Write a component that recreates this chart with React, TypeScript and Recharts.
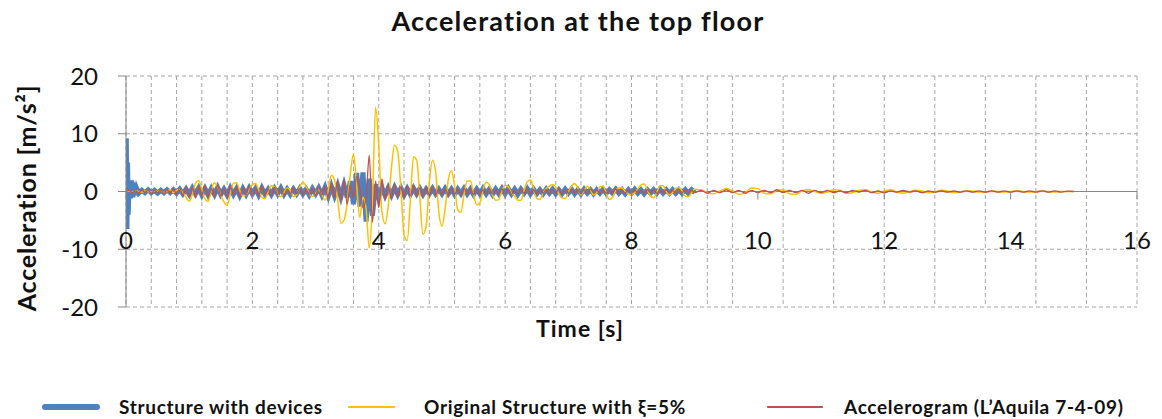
import React from 'react';
import { LineChart, Line, XAxis, YAxis, CartesianGrid, ReferenceLine } from 'recharts';

// sampling grid of the main record (0 - 9 s, every 0.05 s) and the tail (9.1 - 15 s, every 0.1 s)
const mainTime = Array.from({ length: 181 }, (_, i) => Math.round(i * 5) / 100);
const tailTime = Array.from({ length: 60 }, (_, i) => Math.round(91 + i) / 10);

// Original Structure with xi = 5%, one row per second
const originalMain = [
  0, 0.1, -0.1, 0.1, 0, -0.1, 0.1, 0, -0.1, 0.1, 0, 0.2, -0.2, 0.1, 0.3, -0.2, 0.2, 0.4, -0.2, -1.0,
  -1.7, -0.5, 1.4, 1.9, 0.4, -1.3, -1.7, 0.2, 1.5, 0.8, -0.6, -1.8, -2.4, -0.5, 1.4, 1.5, 0.2, -0.8, -0.6, 0.4,
  1.2, 1.4, 0.3, -1.0, -1.2, 0, 1.0, 0.8, -0.4, -0.9, -0.2, 0.6, 0.2, -0.9, -0.6, 0.8, 1.6, 0.9, -0.4, -0.9,
  -0.3, 0.4, -0.6, -1.5, 0.2, 2.8, 2.0, -1.5, -5.5, -5.0, -2.0, 3.0, 6.5, 1.0, -4.5, -1.0, -3.0, -9.8, -2.0, 14.6,
  8.0, -3.5, -5.6, -2.5, 4.0, 8.0, 7.0, 0.5, -7.5, -8.5, -1.5, 6.0, 5.5, -1.0, -7.4, -6.0, 1.5, 5.4, 3.5, -3.5,
  -6.0, -3.0, 2.0, 3.6, 1.0, -3.2, -3.6, -0.5, 1.8, 1.8, -0.5, -2.3, -2.0, 0.3, 1.6, 1.2, -0.6, -1.5, -1.4, 0.2,
  1.1, 0.8, -0.3, -0.8, -1.5, -1.5, 0.2, 1.7, 2.0, 0.5, -1.2, -1.4, -0.3, 0.5, 0.9, 1.2, 0.8, -0.4, -1.1, -1.2,
  -0.2, 0.9, 1.4, 0.6, -0.6, 0.2, 0.9, 0.3, -0.6, -0.2, 0.8, 0.9, -0.3, -1.4, -1.0, 0.2, 0.6, 0.6, 0, -0.4,
  -0.6, -0.2, 0.5, 1.1, 1.3, 0.3, -0.8, -1.1, -0.2, 1.0, 1.0, 0, -0.6, -0.2, 0.5, 0.7, 0.1, -0.8, -0.9, -0.2,
  0.4,
];
const originalTail = [
  0.3, -0.2, -0.4, 0.1, 0.5, 0.1, -0.5, -0.2, 0.6, 0.5,
  -0.3, -0.4, 0.2, 0.3, -0.4, -0.5, 0.1, 0.3, 0, -0.3,
  -0.1, 0.3, 0.2, -0.3, -0.2, 0.2, 0.3, -0.1, -0.3, 0.1,
  0.3, -0.1, -0.3, 0, 0.2, 0.1, -0.2, -0.1, 0.2, 0.1,
  -0.2, -0.1, 0.1, 0.1, -0.1, -0.1, 0.1, 0, -0.1, 0,
  0.1, 0, -0.1, 0, 0.1, 0, -0.1, 0, 0, 0,
];

// Accelerogram (L'Aquila 7-4-09)
const groundMain = [
  0, 0.2, -0.2, 0.1, -0.2, 0.2, -0.1, 0.2, -0.3, 0.2, -0.2, 0.3, -0.4, 0.3, -0.3, 0.5, -0.5, 0.6, -0.7, 0.8,
  -0.9, 0.7, -1.0, 0.9, -0.7, 1.1, -1.0, 0.5, -0.9, 1.1, -0.8, 0.6, -1.0, 0.9, -0.5, 0.8, -1.0, 0.7, -0.6, 0.9,
  -0.8, 0.5, -0.7, 1.0, -0.6, 0.4, -0.8, 0.7, -0.5, 0.6, -0.7, 0.4, -0.5, 0.7, -0.4, 0.5, -0.6, 0.4, -0.5, 0.6,
  -0.7, 0.8, -0.6, 0.9, -1.1, 1.3, -1.0, 1.8, -1.6, 2.0, -2.2, 1.2, -1.0, 2.6, 0.5, -2.8, -1.0, 6.3, -5.3, 1.8,
  -2.8, 2.2, -1.3, 1.0, -1.1, 1.2, -0.9, 0.8, -1.0, 0.9, -0.7, 1.0, -0.8, 0.6, -0.9, 0.7, -0.6, 0.8, -0.7, 0.5,
  -0.6, 0.5, -0.7, 0.6, -0.5, 0.4, -0.6, 0.5, -0.4, 0.6, -0.5, 0.4, -0.5, 0.3, -0.4, 0.5, -0.4, 0.3, -0.5, 0.4,
  -0.3, 0.4, -0.5, 0.3, -0.4, 0.5, -0.3, 0.4, -0.4, 0.3, -0.5, 0.4, -0.3, 0.3, -0.4, 0.4, -0.3, 0.5, -0.4, 0.3,
  -0.3, 0.4, -0.3, 0.3, -0.4, 0.3, -0.3, 0.4, -0.2, 0.3, -0.4, 0.3, -0.3, 0.2, -0.3, 0.4, -0.3, 0.2, -0.3, 0.3,
  -0.2, 0.3, -0.3, 0.2, -0.3, 0.3, -0.2, 0.3, -0.3, 0.2, -0.2, 0.3, -0.2, 0.2, -0.3, 0.2, -0.2, 0.3, -0.2, 0.2,
  -0.2,
];
const groundTail = [
  0.2, -0.3, 0.2, -0.2, 0.3, -0.2, 0.2, -0.3, 0.2, -0.2,
  0.2, -0.2, 0.3, -0.2, 0.2, -0.2, 0.2, -0.3, 0.2, -0.2,
  0.2, -0.2, 0.1, -0.2, 0.2, -0.1, 0.2, -0.2, 0.1, -0.2,
  0.1, -0.1, 0.2, -0.1, 0.1, -0.2, 0.1, -0.1, 0.1, -0.1,
  0.1, -0.1, 0.1, -0.1, 0.1, -0.1, 0.1, -0.1, 0.1, -0.1,
  0.1, -0.1, 0.1, -0.1, 0.1, -0.1, 0.1, -0.1, 0.05, 0,
];

// Structure with devices: impulse at the start, then the record from 0.2 s
const devicesSpikeTime = [0, 0.005, 0.015, 0.025, 0.035, 0.05, 0.07, 0.09, 0.11, 0.13, 0.15, 0.17];
const devicesSpike = [0, 9.2, -6.5, 5.0, -4.0, 1.9, -1.2, 1.9, -1.0, 1.5, -0.6, 0.5];
const devicesMain = [
  0, 0, 0, 0, -0.3, 0.2, -0.2, 0.3, -0.2, 0.2, -0.3, 0.2, -0.2, 0.3, -0.2, 0.3, -0.3, 0.4, -0.4, 0.4,
  -0.5, 0.6, -0.4, 0.6, -0.6, 0.5, -0.6, 0.5, -0.5, 0.7, -0.5, 0.4, -0.6, 0.6, -0.5, 0.5, -0.7, 0.5, -0.5, 0.6,
  -0.4, 0.5, -0.6, 0.6, -0.5, 0.4, -0.5, 0.5, -0.4, 0.6, -0.5, 0.4, -0.5, 0.4, -0.4, 0.5, -0.4, 0.4, -0.6, 0.5,
  -0.4, 0.6, -0.6, 0.7, -0.8, 0.9, -0.7, 1.0, -0.9, 1.1, -1.0, 1.8, -2.2, 3.2, -2.6, 3.3, -5.2, 2.2, -4.2, 1.2,
  -1.0, 0.7, -0.7, 0.6, -0.6, 0.7, -0.5, 0.6, -0.6, 0.5, -0.5, 0.6, -0.4, 0.5, -0.5, 0.4, -0.4, 0.5, -0.4, 0.4,
  -0.4, 0.5, -0.4, 0.4, -0.5, 0.4, -0.4, 0.5, -0.4, 0.4, -0.5, 0.4, -0.4, 0.5, -0.4, 0.4, -0.5, 0.4, -0.4, 0.5,
  -0.4, 0.5, -0.4, 0.4, -0.5, 0.4, -0.3, 0.5, -0.4, 0.4, -0.4, 0.3, -0.4, 0.4, -0.3, 0.4, -0.4, 0.3, -0.4, 0.4,
  -0.3, 0.4, -0.4, 0.3, -0.4, 0.4, -0.3, 0.3, -0.4, 0.3, -0.3, 0.4, -0.3, 0.3, -0.3, 0.4, -0.3, 0.3, -0.4, 0.3,
  -0.3, 0.4, -0.3, 0.3, -0.4, 0.3, -0.3, 0.3, -0.3, 0.4, -0.3, 0.3, -0.3, 0.3, -0.3, 0.3, -0.3, 0.3, -0.3, 0.3,
  -0.2,
];

const xTicks = [0, 2, 4, 6, 8, 10, 12, 14, 16];
const yTicks = [-20, -10, 0, 10, 20];
const gridTicks = Array.from({ length: 41 }, (_, i) => Math.round(i * 4) / 10);

const originalData = [
  ...mainTime.map((t, i) => ({ t, a: originalMain[i] })),
  ...tailTime.map((t, i) => ({ t, a: originalTail[i] })),
];
const groundData = [
  ...mainTime.map((t, i) => ({ t, a: groundMain[i] })),
  ...tailTime.map((t, i) => ({ t, a: groundTail[i] })),
];
const devicesData = [
  ...devicesSpikeTime.map((t, i) => ({ t, a: devicesSpike[i] })),
  ...mainTime.map((t, i) => ({ t, a: devicesMain[i] })).filter((p) => p.t >= 0.2),
];

const FONT = 'Lato, "Open Sans", sans-serif';
const BLUE = '#4F81BD';
const GOLD = '#FFC000';
const RED = '#C0504D';
const GRID = '#A6A6A6';
const AXIS = '#868686';

const W = 1162;
const H = 419;
const TOP = 76;
const PLOT_H = 231;
const ZERO_Y = TOP + PLOT_H / 2;

const TimeTick = (props: any) => {
  const { x, payload } = props;
  return (
    <g>
      <line x1={x} x2={x} y1={ZERO_Y} y2={ZERO_Y + 8} stroke={AXIS} />
      <text x={x} y={ZERO_Y + 57} textAnchor="middle" fontSize={24} fontFamily={FONT} fill="#111">
        {payload.value}
      </text>
    </g>
  );
};

const legendItems = [
  { label: 'Structure with devices', color: BLUE, width: 6, lineLeft: 42, lineLen: 58, textLeft: 119 },
  { label: 'Original Structure with ξ=5%', color: GOLD, width: 1.5, lineLeft: 348, lineLen: 47, textLeft: 424 },
  { label: 'Accelerogram (L’Aquila 7-4-09)', color: RED, width: 1.5, lineLeft: 767, lineLen: 56, textLeft: 844 },
];

const ChartLegend = () => (
  <div
    style={{
      position: 'absolute',
      left: 0,
      top: 395,
      width: W,
      height: 24,
      fontWeight: 700,
      fontSize: 19,
      letterSpacing: 0.7,
    }}
  >
    {legendItems.map((it) => (
      <React.Fragment key={it.label}>
        <div
          style={{
            position: 'absolute',
            left: it.lineLeft,
            top: 12 - it.width / 2,
            width: it.lineLen,
            height: it.width,
            background: it.color,
            borderRadius: it.width / 2,
          }}
        />
        <div style={{ position: 'absolute', left: it.textLeft, top: 0, color: '#111', whiteSpace: 'nowrap' }}>
          {it.label}
        </div>
      </React.Fragment>
    ))}
  </div>
);

export default function App() {
  return (
    <div style={{ position: 'absolute', left: 0, top: 0, width: W, height: H, background: '#fff', fontFamily: FONT }}>
      <div
        style={{
          position: 'absolute',
          top: 4,
          left: 0,
          width: W - 6,
          textAlign: 'center',
          fontSize: 27,
          letterSpacing: 1.2,
          fontWeight: 700,
          color: '#111',
        }}
      >
        Acceleration at the top floor
      </div>
      <div
        style={{
          position: 'absolute',
          left: 26,
          top: 198,
          transform: 'translate(-50%, -50%) rotate(-90deg)',
          fontSize: 25,
          letterSpacing: 0.8,
          fontWeight: 700,
          whiteSpace: 'nowrap',
          color: '#111',
        }}
      >
        Acceleration [m/s²]
      </div>
      <div
        style={{
          position: 'absolute',
          left: 580,
          top: 328,
          transform: 'translate(-50%, -50%)',
          fontSize: 23,
          letterSpacing: 1,
          fontWeight: 700,
          whiteSpace: 'nowrap',
          color: '#111',
        }}
      >
        Time [s]
      </div>
      <LineChart width={W} height={H} margin={{ top: TOP, right: 25, left: 56, bottom: H - TOP - PLOT_H - 30 }}>
        <CartesianGrid xAxisId="grid" stroke={GRID} strokeDasharray="4 3" />
        <XAxis
          xAxisId="grid"
          type="number"
          dataKey="t"
          domain={[0, 16]}
          ticks={gridTicks}
          allowDataOverflow
          hide
        />
        <XAxis
          type="number"
          dataKey="t"
          domain={[0, 16]}
          ticks={xTicks}
          allowDataOverflow
          axisLine={false}
          tickLine={false}
          height={30}
          tick={<TimeTick />}
          interval={0}
        />
        <YAxis
          domain={[-20, 20]}
          ticks={yTicks}
          width={70}
          stroke={AXIS}
          tickSize={8}
          tickMargin={20}
          tick={{ fontSize: 24, fontFamily: FONT, fill: '#111' }}
          interval={0}
        />
        <ReferenceLine y={0} stroke={AXIS} strokeWidth={1.2} />
        <Line
          data={devicesData}
          dataKey="a"
          name="Structure with devices"
          stroke={BLUE}
          strokeWidth={5}
          dot={false}
          activeDot={false}
          isAnimationActive={false}
        />
        <Line
          data={originalData}
          dataKey="a"
          name="Original Structure with ξ=5%"
          type="monotone"
          stroke={GOLD}
          strokeWidth={1.5}
          dot={false}
          activeDot={false}
          isAnimationActive={false}
        />
        <Line
          data={groundData}
          dataKey="a"
          name="Accelerogram (L’Aquila 7-4-09)"
          type="monotone"
          stroke={RED}
          strokeWidth={1.3}
          dot={false}
          activeDot={false}
          isAnimationActive={false}
        />
      </LineChart>
      <ChartLegend />
    </div>
  );
}
